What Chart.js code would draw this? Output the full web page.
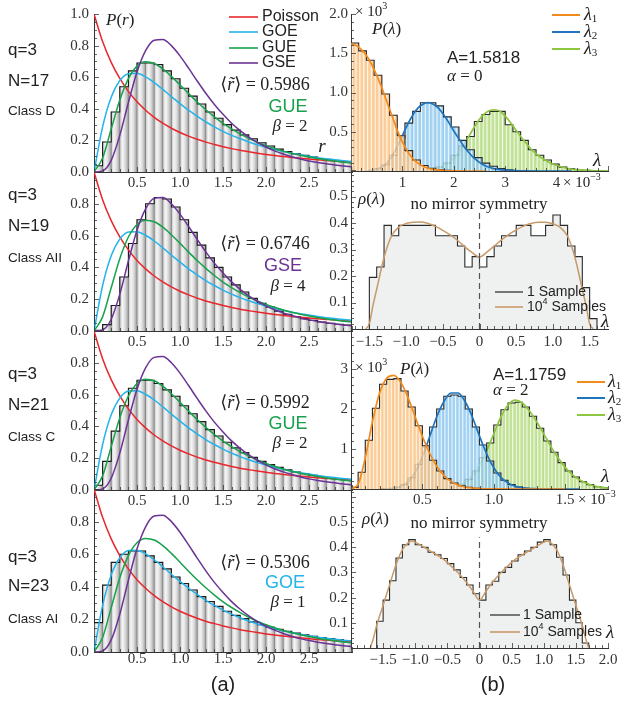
<!DOCTYPE html>
<html>
<head>
<meta charset="UTF-8">
<title>Level statistics and low-lying spectra, q=3</title>
<script src="https://cdn.jsdelivr.net/npm/chart.js"></script>
<style>
body { margin: 0; background: #fff; }
#fig { position: relative; width: 624px; height: 702px; overflow: hidden; }
#fig canvas { position: absolute; left: 0; top: 0; }
</style>
</head>
<body>
<div id="fig">
  <canvas id="rD17" width="624" height="702"></canvas>
  <canvas id="rAII19" width="624" height="702"></canvas>
  <canvas id="rC21" width="624" height="702"></canvas>
  <canvas id="rAI23" width="624" height="702"></canvas>
  <canvas id="lamA0" width="624" height="702"></canvas>
  <canvas id="rhoAII19" width="624" height="702"></canvas>
  <canvas id="lamA2" width="624" height="702"></canvas>
  <canvas id="rhoAI23" width="624" height="702"></canvas>
</div>
<script>
// ---------- (a) ratio statistics ----------
const rGrid = [0, 0.1, 0.2, 0.3, 0.4, 0.5, 0.6, 0.7, 0.8, 0.9, 1.0, 1.1, 1.2, 1.3, 1.4, 1.5,
  1.6, 1.7, 1.8, 1.9, 2.0, 2.1, 2.2, 2.3, 2.4, 2.5, 2.6, 2.7, 2.8, 2.9, 3.0];
const pPoisson = [1, 0.826, 0.694, 0.592, 0.510, 0.444, 0.391, 0.346, 0.309, 0.277, 0.250, 0.227,
  0.207, 0.189, 0.174, 0.160, 0.148, 0.137, 0.128, 0.119, 0.111, 0.104, 0.098, 0.092, 0.087, 0.082,
  0.077, 0.073, 0.069, 0.066, 0.063];
const pGOE = [0, 0.286, 0.473, 0.578, 0.622, 0.625, 0.602, 0.566, 0.523, 0.477, 0.433, 0.391,
  0.353, 0.317, 0.286, 0.257, 0.232, 0.210, 0.190, 0.172, 0.156, 0.142, 0.130, 0.118, 0.109, 0.100,
  0.091, 0.084, 0.078, 0.072, 0.067];
const pGUE = [0, 0.089, 0.272, 0.455, 0.591, 0.670, 0.697, 0.687, 0.653, 0.605, 0.551, 0.496,
  0.443, 0.394, 0.349, 0.308, 0.273, 0.241, 0.213, 0.189, 0.167, 0.149, 0.132, 0.118, 0.106, 0.095,
  0.085, 0.076, 0.069, 0.062, 0.056];
const pGSE = [0, 0.007, 0.074, 0.232, 0.440, 0.633, 0.768, 0.834, 0.839, 0.800, 0.735, 0.657,
  0.576, 0.498, 0.427, 0.365, 0.309, 0.262, 0.221, 0.187, 0.158, 0.134, 0.114, 0.097, 0.082, 0.070,
  0.060, 0.052, 0.045, 0.038, 0.033];

// histograms of r, bins of width 0.1 starting at 0
const rBin = 0.1;
const histD17 = [0.04, 0.19, 0.38, 0.54, 0.64, 0.69, 0.69, 0.68, 0.64, 0.59, 0.53, 0.48, 0.43, 0.38,
  0.34, 0.30, 0.265, 0.235, 0.21, 0.185, 0.165, 0.145, 0.13, 0.115, 0.105, 0.095, 0.085, 0.077, 0.07, 0.063];
const histAII19 = [0.005, 0.04, 0.16, 0.34, 0.55, 0.70, 0.80, 0.84, 0.83, 0.78, 0.70, 0.62, 0.54, 0.46,
  0.40, 0.34, 0.29, 0.245, 0.205, 0.175, 0.15, 0.125, 0.105, 0.09, 0.078, 0.067, 0.057, 0.049, 0.042, 0.037];
const histC21 = [0.03, 0.18, 0.37, 0.53, 0.64, 0.69, 0.69, 0.67, 0.63, 0.59, 0.53, 0.48, 0.43, 0.38,
  0.34, 0.30, 0.265, 0.235, 0.205, 0.18, 0.16, 0.142, 0.127, 0.113, 0.102, 0.092, 0.083, 0.075, 0.068, 0.062];
const histAI23 = [0.18, 0.41, 0.55, 0.60, 0.62, 0.62, 0.59, 0.55, 0.51, 0.46, 0.42, 0.38, 0.34, 0.31,
  0.28, 0.25, 0.225, 0.205, 0.185, 0.168, 0.152, 0.139, 0.127, 0.116, 0.106, 0.097, 0.089, 0.082, 0.076, 0.07];

const rTickX = [0.5, 1.0, 1.5, 2.0, 2.5];
const rTickYTop = [0, 0.2, 0.4, 0.6, 0.8, 1.0];
const rTickY = [0, 0.2, 0.4, 0.6, 0.8];

// ---------- (b) three smallest eigenvalues, alpha = 0 (lambda in 1e-3, P in 1e3) ----------
const a0Bin = 0.15;
const a0Lam1X = [0, 0.1, 0.2, 0.3, 0.4, 0.5, 0.6, 0.7, 0.8, 0.9, 1.0, 1.1, 1.2, 1.3, 1.4, 1.5, 1.6, 1.8, 2.0, 2.3, 2.6];
const a0Lam1Y = [1.62, 1.60, 1.55, 1.47, 1.36, 1.22, 1.06, 0.88, 0.70, 0.52, 0.37, 0.25, 0.16, 0.10, 0.06, 0.035, 0.02, 0.006, 0.002, 0, 0];
const a0Lam2X = [0.3, 0.5, 0.6, 0.7, 0.8, 0.9, 1.0, 1.1, 1.2, 1.3, 1.4, 1.5, 1.6, 1.7, 1.8, 1.9, 2.0, 2.1, 2.2, 2.3, 2.4, 2.5, 2.6, 2.7, 2.8, 3.0, 3.3, 3.8, 4.3];
const a0Lam2Y = [0, 0.02, 0.05, 0.10, 0.19, 0.31, 0.45, 0.59, 0.71, 0.80, 0.85, 0.87, 0.85, 0.80, 0.72, 0.62, 0.51, 0.41, 0.31, 0.23, 0.16, 0.11, 0.07, 0.045, 0.028, 0.01, 0.002, 0, 0];
const a0Lam3X = [1.3, 1.5, 1.7, 1.9, 2.0, 2.1, 2.2, 2.3, 2.4, 2.5, 2.6, 2.7, 2.8, 2.9, 3.0, 3.1, 3.2, 3.3, 3.4, 3.5, 3.6, 3.7, 3.8, 3.9, 4.0, 4.2, 4.4, 4.6, 4.8, 5.0];
const a0Lam3Y = [0, 0.01, 0.04, 0.10, 0.16, 0.24, 0.34, 0.45, 0.56, 0.66, 0.73, 0.77, 0.78, 0.76, 0.70, 0.62, 0.53, 0.44, 0.36, 0.28, 0.22, 0.17, 0.13, 0.095, 0.07, 0.035, 0.017, 0.008, 0.003, 0];
const a0Lam1Start = 0;
const a0Lam1Hist = [1.63, 1.53, 1.41, 1.22, 0.98, 0.71, 0.45, 0.26, 0.14, 0.07, 0.035, 0.015, 0.008];
const a0Lam2Start = 0.45;
const a0Lam2Hist = [0.03, 0.08, 0.2, 0.42, 0.61, 0.76, 0.87, 0.87, 0.83, 0.69, 0.56, 0.39, 0.27, 0.17, 0.1, 0.06, 0.03, 0.015, 0.005];
const a0Lam3Start = 1.35;
const a0Lam3Hist = [0.005, 0.02, 0.05, 0.1, 0.2, 0.32, 0.44, 0.63, 0.72, 0.76, 0.76, 0.59, 0.50, 0.39, 0.27, 0.20, 0.14, 0.09, 0.05, 0.03, 0.015, 0.01, 0.005];
const a0TickX = [1, 2, 3, 4];
const a0TickY = [0.5, 1.0, 1.5, 2.0];

// ---------- alpha = 2 ----------
const a2Bin = 0.05;
const a2Lam1X = [0, 0.05, 0.1, 0.15, 0.2, 0.25, 0.3, 0.35, 0.4, 0.45, 0.5, 0.55, 0.6, 0.65, 0.7, 0.75, 0.8, 0.85, 0.9, 1.0, 1.2, 1.5];
const a2Lam1Y = [0, 0.12, 0.78, 1.68, 2.40, 2.77, 2.84, 2.66, 2.28, 1.80, 1.32, 0.90, 0.57, 0.34, 0.19, 0.10, 0.05, 0.025, 0.012, 0.003, 0, 0];
const a2Lam2X = [0.2, 0.25, 0.3, 0.35, 0.4, 0.45, 0.5, 0.55, 0.6, 0.65, 0.7, 0.75, 0.8, 0.85, 0.9, 0.95, 1.0, 1.05, 1.1, 1.15, 1.2, 1.3, 1.4, 1.6];
const a2Lam2Y = [0, 0.005, 0.02, 0.07, 0.18, 0.42, 0.80, 1.30, 1.80, 2.18, 2.40, 2.40, 2.18, 1.80, 1.32, 0.88, 0.53, 0.29, 0.15, 0.07, 0.03, 0.005, 0, 0];
const a2Lam3X = [0.6, 0.7, 0.75, 0.8, 0.85, 0.9, 0.95, 1.0, 1.05, 1.1, 1.15, 1.2, 1.25, 1.3, 1.35, 1.4, 1.45, 1.5, 1.55, 1.6, 1.65, 1.7, 1.75, 1.8];
const a2Lam3Y = [0.005, 0.03, 0.07, 0.16, 0.32, 0.58, 0.95, 1.38, 1.80, 2.10, 2.22, 2.15, 1.95, 1.68, 1.38, 1.06, 0.78, 0.54, 0.36, 0.23, 0.14, 0.08, 0.045, 0.025];
const a2Lam1Start = 0;
const a2Lam1Hist = [0.04, 0.42, 1.22, 2.02, 2.62, 2.74, 2.76, 2.45, 2.05, 1.58, 1.08, 0.72, 0.45, 0.26, 0.15, 0.08, 0.04, 0.02, 0.01];
const a2Lam2Start = 0.25;
const a2Lam2Hist = [0.01, 0.04, 0.11, 0.28, 0.62, 1.05, 1.55, 2.0, 2.32, 2.35, 2.32, 2.0, 1.55, 1.1, 0.7, 0.4, 0.22, 0.11, 0.05, 0.02, 0.01];
const a2Lam3Start = 0.65;
const a2Lam3Hist = [0.02, 0.05, 0.11, 0.24, 0.45, 0.78, 1.15, 1.6, 1.98, 2.15, 2.17, 2.05, 1.82, 1.52, 1.2, 0.92, 0.66, 0.45, 0.3, 0.18, 0.11, 0.06, 0.03];
const a2TickX = [0.5, 1.0, 1.5];
const a2TickY = [1, 2, 3];

// ---------- spectral densities ----------
const rhoBin = 0.1;
const rhoAII19Start = -1.5;
const rhoAII19 = [0.195, 0.234, 0.391, 0.352, 0.391, 0.391, 0.391, 0.391, 0.391, 0.352, 0.352, 0.352,
  0.313, 0.234, 0.273, 0.234, 0.273, 0.313, 0.352, 0.352, 0.391, 0.391, 0.352, 0.352, 0.391, 0.430,
  0.391, 0.313, 0.273, 0.156, 0.039];
const rhoAII19X = [-1.55, -1.5, -1.45, -1.4, -1.3, -1.2, -1.1, -1.0, -0.9, -0.8, -0.7, -0.6, -0.5, -0.4,
  -0.3, -0.2, -0.1, 0, 0.1, 0.2, 0.3, 0.4, 0.5, 0.6, 0.7, 0.8, 0.9, 1.0, 1.1, 1.2, 1.3, 1.4, 1.45, 1.5, 1.55];
const rhoAII19Y = [0, 0.02, 0.09, 0.15, 0.27, 0.35, 0.385, 0.398, 0.403, 0.404, 0.398, 0.387, 0.372, 0.355,
  0.335, 0.31, 0.288, 0.272, 0.29, 0.313, 0.336, 0.357, 0.374, 0.388, 0.398, 0.403, 0.403, 0.397, 0.383,
  0.35, 0.27, 0.15, 0.09, 0.02, 0];
const rhoAI23Start = -1.6;
const rhoAI23 = [0.106, 0.19, 0.267, 0.357, 0.41, 0.43, 0.41, 0.40, 0.38, 0.37, 0.355, 0.335, 0.31, 0.28,
  0.25, 0.215, 0.19, 0.25, 0.265, 0.30, 0.32, 0.345, 0.37, 0.385, 0.40, 0.42, 0.43, 0.41, 0.36, 0.29,
  0.19, 0.10, 0.02];
const rhoAI23X = [-1.7, -1.65, -1.6, -1.5, -1.4, -1.3, -1.2, -1.1, -1.05, -1.0, -0.9, -0.8, -0.7, -0.6,
  -0.5, -0.4, -0.3, -0.2, -0.1, 0, 0.1, 0.2, 0.3, 0.4, 0.5, 0.6, 0.7, 0.8, 0.9, 1.0, 1.05, 1.1, 1.2, 1.3,
  1.4, 1.5, 1.6, 1.65, 1.7];
const rhoAI23Y = [0, 0.04, 0.09, 0.17, 0.25, 0.33, 0.39, 0.42, 0.425, 0.42, 0.405, 0.39, 0.375, 0.36,
  0.34, 0.315, 0.29, 0.26, 0.225, 0.19, 0.225, 0.26, 0.29, 0.315, 0.34, 0.36, 0.375, 0.39, 0.405, 0.42,
  0.425, 0.42, 0.39, 0.33, 0.25, 0.17, 0.09, 0.04, 0];
const mirrorAt = 0, mirrorTop = 0.44;
const rhoTickY = [0.1, 0.2, 0.3, 0.4, 0.5];
const rhoTickXAII = [-1.5, -1.0, -0.5, 0, 0.5, 1.0, 1.5];
const rhoTickXAI = [-1.5, -1.0, -0.5, 0, 0.5, 1.0, 1.5, 2.0];

// ---------- drawing ----------
const W = 624, H = 702;
const YW = 40, XH = 24;   // room reserved for tick labels
const SERIF = '"Liberation Serif", "DejaVu Serif", serif';
const SANS = '"Liberation Sans", Arial, sans-serif';
const INK = '#222';
const COL = {
  poisson: '#e8262b', goe: '#22b4ea', gue: '#18a14d', gse: '#6b3395',
  l1: '#f28a1c', l2: '#1f74bd', l3: '#8dc63f', tan: '#c89a68', fill: '#eff0f0'
};
const rm = s => `${s}px ${SERIF}`;
const it = s => `italic ${s}px ${SERIF}`;
const sf = s => `${s}px ${SANS}`;

const xy = (xs, ys) => xs.map((x, i) => ({x, y: ys[i]}));
// bin centres rounded so that histograms sharing a grid line up exactly
const binBars = (start, w, hs) => hs.map((h, i) => ({x: +(start + (i + 0.5) * w).toFixed(6), y: h}));
function binSteps(start, w, hs) {
  const p = [{x: start, y: 0}];
  hs.forEach((h, i) => p.push({x: +(start + i * w).toFixed(6), y: h}));
  p.push({x: +(start + hs.length * w).toFixed(6), y: 0});
  return p;
}

// horizontal gradient across each bar
function shade(stops) {
  return c => {
    const s = c.chart.scales.x;
    if (c.type !== 'data' || !s || !c.raw) return stops[1][1];
    const w = c.dataset.binWidth;
    const a = s.getPixelForValue(c.raw.x - w / 2), b = s.getPixelForValue(c.raw.x + w / 2);
    if (!isFinite(a) || !isFinite(b) || b - a < 0.5) return stops[1][1];
    const g = c.chart.ctx.createLinearGradient(a, 0, b, 0);
    stops.forEach(([o, col]) => g.addColorStop(o, col));
    return g;
  };
}
const grayStops = [[0, '#7f7f7f'], [0.1, '#d6d6d6'], [0.32, '#f6f6f6'], [0.62, '#dcdcdc'], [1, '#9e9e9e']];
const stripes = (mid, light) => [[0, mid], [0.14, light], [0.3, mid], [0.5, mid], [0.64, light], [0.8, mid], [1, mid]];
const orangeStops = stripes('rgba(249,192,126,0.78)', 'rgba(255,244,230,0.78)');
const blueStops = stripes('rgba(138,198,238,0.78)', 'rgba(230,244,253,0.78)');
const greenStops = stripes('rgba(178,218,124,0.78)', 'rgba(238,248,226,0.78)');

const fmt1 = v => v.toFixed(1);
const fmtInt = v => String(v);
const fmtSigned = v => (v === 0 ? '0' : v.toFixed(1).replace('-', '\u2212'));

function axisBase(min, max, labels, fmt, padding) {
  return {
    type: 'linear', min, max, bounds: 'data', offset: false,
    afterBuildTicks: s => { s.ticks = labels.map(value => ({value})); },
    grid: {display: false, drawTicks: false},
    border: {display: true, color: '#333', width: 1},
    ticks: {padding, autoSkip: false, maxRotation: 0, color: '#333',
      font: {family: SERIF, size: 15}, callback: fmt}
  };
}
const xAxis = (...a) => Object.assign(axisBase(...a), {afterFit: s => { s.height = XH; }});
const yAxis = (...a) => Object.assign(axisBase(...a), {afterFit: s => { s.width = YW; }});

function curve(xs, ys, color, order, w) {
  return {data: xy(xs, ys), borderColor: color, borderWidth: w || 1.5, pointRadius: 0,
    fill: false, cubicInterpolationMode: 'monotone', order};
}
function outline(start, w, hs, order, color) {
  return {data: binSteps(start, w, hs), stepped: true, borderColor: color || '#1b1b1b',
    borderWidth: 1.1, pointRadius: 0, fill: false, order};
}
function barSet(start, w, hs, stops, order) {
  return {type: 'bar', data: binBars(start, w, hs), binWidth: w, backgroundColor: shade(stops),
    borderWidth: 0, grouped: false, barPercentage: 1, categoryPercentage: 1, order};
}

// inward minor/major tick marks on the frame
function marks(lo, hi, step) {
  const [minor, major] = step, out = [];
  for (let k = Math.ceil(lo / minor - 1e-9); k * minor <= hi + 1e-9; k++) {
    const v = k * minor, r = v / major;
    out.push([v, Math.abs(r - Math.round(r)) < 1e-6]);
  }
  return out;
}
function frameTicks(xs, ys) {
  return {
    id: 'frameTicks',
    afterDraw(chart) {
      const {ctx, chartArea: a, scales: {x, y}} = chart;
      ctx.save();
      ctx.strokeStyle = '#3a3a3a';
      ctx.lineWidth = 0.8;
      ctx.beginPath();
      marks(x.min, x.max, xs).forEach(([v, big]) => {
        const p = Math.round(x.getPixelForValue(v)) + 0.5;
        ctx.moveTo(p, a.bottom); ctx.lineTo(p, a.bottom - (big ? 5 : 3));
      });
      marks(y.min, y.max, ys).forEach(([v, big]) => {
        const p = Math.round(y.getPixelForValue(v)) + 0.5;
        ctx.moveTo(a.left, p); ctx.lineTo(a.left + (big ? 5 : 3), p);
      });
      ctx.stroke();
      ctx.restore();
    }
  };
}

// text labels and legend swatches
function drawRuns(ctx, x, y, runs, align, color) {
  ctx.fillStyle = color;
  ctx.textBaseline = 'middle';
  ctx.textAlign = 'left';
  let w = 0;
  runs.forEach(r => { ctx.font = r[1]; w += ctx.measureText(r[0]).width; });
  let cx = align === 'center' ? x - w / 2 : align === 'right' ? x - w : x;
  runs.forEach(r => {
    ctx.font = r[1];
    ctx.fillText(r[0], cx, y + (r[2] || 0));
    cx += ctx.measureText(r[0]).width;
  });
}
function notes(items) {
  return {
    id: 'notes',
    afterDraw(chart) {
      const ctx = chart.ctx;
      items.forEach(n => {
        ctx.save();
        if (n.line) {
          ctx.strokeStyle = n.line;
          ctx.lineWidth = n.lw;
          ctx.beginPath(); ctx.moveTo(n.x, n.y); ctx.lineTo(n.x2, n.y); ctx.stroke();
        } else {
          drawRuns(ctx, n.x, n.y, n.runs, n.align, n.color || INK);
        }
        ctx.restore();
      });
    }
  };
}
const T = (x, y, runs, align, color) => ({x, y, runs, align, color});
const S = (x, x2, y, color, lw) => ({line: color, x, x2, y, lw: lw || 1.6});
const rbar = v => [['\u27e8', rm(18)], ['r\u0303', it(18)], ['\u27e9 = ' + v, rm(18)]];
const beta = v => [['\u03b2', it(17)], [' = ' + v, rm(17)]];
const lam = k => [['\u03bb', it(18)], [k, rm(11), 4]];
const func = (f, a) => [[f, it(17)], ['(', rm(17)], [a, it(17)], [')', rm(17)]];
const tenTo = e => [['\u00d7 10', rm(15)], [e, rm(10), -6]];
const samples = [['10', sf(14)], ['4', sf(9), -5], [' Samples', sf(14)]];

function panel(id, area, scales, datasets, ticks, items) {
  return new Chart(document.getElementById(id), {
    type: 'line',
    data: {datasets},
    options: {
      responsive: false, animation: false, events: [],
      layout: {padding: {left: area[0] - YW, top: area[1], right: W - area[2], bottom: H - area[3] - XH}},
      scales,
      plugins: {legend: {display: false}, tooltip: {enabled: false}}
    },
    plugins: [frameTicks(ticks[0], ticks[1]), notes(items)]
  });
}

function rPanel(id, y0, y1, hist, yLabels, xPad, items) {
  return panel(id, [94, y0, 352, y1],
    {x: xAxis(0, 3, rTickX, fmt1, xPad), y: yAxis(0, 1, yLabels, fmt1, 5)},
    [
      barSet(0, rBin, hist, grayStops, 10),
      outline(0, rBin, hist, 9),
      curve(rGrid, pPoisson, COL.poisson, 5),
      curve(rGrid, pGOE, COL.goe, 4),
      curve(rGrid, pGUE, COL.gue, 3),
      curve(rGrid, pGSE, COL.gse, 2)
    ],
    [[0.1, 0.5], [0.05, 0.2]], items);
}

function lamPanel(id, area, xMax, yMax, xLabels, xFmt, xPad, yLabels, yFmt, bin, sets, ticks, items) {
  const ds = [];
  sets.forEach((s, k) => {
    const o = 1 + 3 * k;
    ds.push(barSet(s.start, bin, s.hist, s.stops, o + 2));
    ds.push(outline(s.start, bin, s.hist, o + 1, '#2a2a2a'));
    ds.push(curve(s.cx, s.cy, s.color, o, 1.7));
  });
  return panel(id, area,
    {x: xAxis(0, xMax, xLabels, xFmt, xPad), y: yAxis(0, yMax, yLabels, yFmt, 3)},
    ds, ticks, items);
}

function rhoPanel(id, area, xMin, xMax, yMax, xLabels, xPad, start, hist, cx, cy, items) {
  return panel(id, area,
    {x: xAxis(xMin, xMax, xLabels, fmtSigned, xPad), y: yAxis(0, yMax, rhoTickY, fmt1, 3)},
    [
      {data: binSteps(start, rhoBin, hist), stepped: true, borderColor: '#2a2a2a', borderWidth: 1.1,
        backgroundColor: COL.fill, fill: 'origin', pointRadius: 0, order: 5},
      curve(cx, cy, COL.tan, 3, 1.5),
      {data: [{x: mirrorAt, y: 0}, {x: mirrorAt, y: mirrorTop}], borderColor: '#555', borderWidth: 1.2,
        borderDash: [6, 4], pointRadius: 0, fill: false, order: 1}
    ],
    [[0.1, 0.5], [0.02, 0.1]], items);
}

// left column
rPanel('rD17', 14, 172, histD17, rTickYTop, 2, [
  T(8, 50, [['q=3', sf(17)]]), T(8, 81, [['N=17', sf(17)]]), T(8, 111.5, [['Class D', sf(13.5)]]),
  T(106, 21, func('P', 'r')),
  S(229, 258, 17, COL.poisson), T(262, 17, [['Poisson', sf(16)]]),
  S(229, 258, 32, COL.goe), T(262, 32, [['GOE', sf(16)]]),
  S(229, 258, 48, COL.gue), T(262, 48, [['GUE', sf(16)]]),
  S(229, 258, 63, COL.gse), T(262, 63, [['GSE', sf(16)]]),
  T(265, 85, rbar('0.5986'), 'center'),
  T(288, 107, [['GUE', sf(18)]], 'center', COL.gue),
  T(290, 127, beta('2'), 'center'),
  T(322, 147, [['r', it(19)]], 'center')
]);
rPanel('rAII19', 172, 331, histAII19, rTickY, 2, [
  T(8, 195, [['q=3', sf(17)]]), T(8, 226, [['N=19', sf(17)]]), T(8, 258, [['Class AII', sf(13.5)]]),
  T(265, 244, rbar('0.6746'), 'center'),
  T(283, 266, [['GSE', sf(18)]], 'center', COL.gse),
  T(288, 287, beta('4'), 'center')
]);
rPanel('rC21', 331, 490, histC21, rTickY, 2, [
  T(8, 374, [['q=3', sf(17)]]), T(8, 405, [['N=21', sf(17)]]), T(8, 437, [['Class C', sf(13.5)]]),
  T(265, 403, rbar('0.5992'), 'center'),
  T(288, 424, [['GUE', sf(18)]], 'center', COL.gue),
  T(290, 444, beta('2'), 'center')
]);
rPanel('rAI23', 489, 652, histAI23, rTickY, -2, [
  T(8, 557, [['q=3', sf(17)]]), T(8, 586, [['N=23', sf(17)]]), T(8, 619, [['Class AI', sf(13.5)]]),
  T(265, 563, rbar('0.5306'), 'center'),
  T(285, 583, [['GOE', sf(18)]], 'center', COL.goe),
  T(288, 603, beta('1'), 'center'),
  T(223, 685, [['(a)', sf(20)]], 'center')
]);

// right column
lamPanel('lamA0', [351, 14, 608, 171], 5, 2, a0TickX, fmtInt, 3, a0TickY, fmt1, a0Bin, [
  {start: a0Lam1Start, hist: a0Lam1Hist, cx: a0Lam1X, cy: a0Lam1Y, stops: orangeStops, color: COL.l1},
  {start: a0Lam2Start, hist: a0Lam2Hist, cx: a0Lam2X, cy: a0Lam2Y, stops: blueStops, color: COL.l2},
  {start: a0Lam3Start, hist: a0Lam3Hist, cx: a0Lam3X, cy: a0Lam3Y, stops: greenStops, color: COL.l3}
], [[0.2, 1], [0.1, 0.5]], [
  T(355, 12, tenTo('3')),
  T(372, 30, func('P', '\u03bb')),
  T(447, 58, [['A=1.5818', sf(17)]]),
  T(447, 77, [['\u03b1', it(17)], [' = 0', rm(17)]]),
  S(552, 580, 15, COL.l1, 2), T(584, 15, lam('1')),
  S(552, 580, 32, COL.l2, 2), T(584, 32, lam('2')),
  S(552, 580, 49, COL.l3, 2), T(584, 49, lam('3')),
  T(597, 161, [['\u03bb', it(19)]], 'center'),
  T(563, 183, tenTo('\u22123'))
]);
rhoPanel('rhoAII19', [351, 170, 608, 329], -1.75, 1.75, 0.6, rhoTickXAII, 4,
  rhoAII19Start, rhoAII19, rhoAII19X, rhoAII19Y, [
  T(358, 200, func('\u03c1', '\u03bb')),
  T(479, 205, [['no mirror symmetry', rm(17)]], 'center'),
  S(495, 523, 292, '#333', 1.3), T(527, 292, [['1 Sample', sf(14)]]),
  S(495, 523, 307, COL.tan, 1.6), T(527, 307, samples),
  T(605, 322, [['\u03bb', it(19)]], 'center')
]);
lamPanel('lamA2', [351, 329, 608, 489], 1.8, 4, a2TickX, fmt1, 2, a2TickY, fmtInt, a2Bin, [
  {start: a2Lam1Start, hist: a2Lam1Hist, cx: a2Lam1X, cy: a2Lam1Y, stops: orangeStops, color: COL.l1},
  {start: a2Lam2Start, hist: a2Lam2Hist, cx: a2Lam2X, cy: a2Lam2Y, stops: blueStops, color: COL.l2},
  {start: a2Lam3Start, hist: a2Lam3Hist, cx: a2Lam3X, cy: a2Lam3Y, stops: greenStops, color: COL.l3}
], [[0.1, 0.5], [0.2, 1]], [
  T(355, 368, tenTo('3')),
  T(400, 370, func('P', '\u03bb')),
  T(493, 375, [['A=1.1759', sf(17)]]),
  T(493, 391, [['\u03b1', it(17)], [' = 2', rm(17)]]),
  S(577, 605, 382, COL.l1, 2), T(608, 382, lam('1')),
  S(577, 605, 398, COL.l2, 2), T(608, 398, lam('2')),
  S(577, 605, 415, COL.l3, 2), T(608, 415, lam('3')),
  T(605, 477, [['\u03bb', it(19)]], 'center'),
  T(578, 500, tenTo('\u22123'))
]);
rhoPanel('rhoAI23', [351, 489, 608, 648], -2, 2, 0.631, rhoTickXAI, 3,
  rhoAI23Start, rhoAI23, rhoAI23X, rhoAI23Y, [
  T(362, 520, func('\u03c1', '\u03bb')),
  T(479, 524, [['no mirror symmetry', rm(17)]], 'center'),
  S(490, 520, 615, '#333', 1.3), T(523, 615, [['1 Sample', sf(14)]]),
  S(490, 520, 632, COL.tan, 1.6), T(523, 632, samples),
  T(610, 633, [['\u03bb', it(19)]], 'center'),
  T(493, 685, [['(b)', sf(20)]], 'center')
]);
</script>
</body>
</html>
